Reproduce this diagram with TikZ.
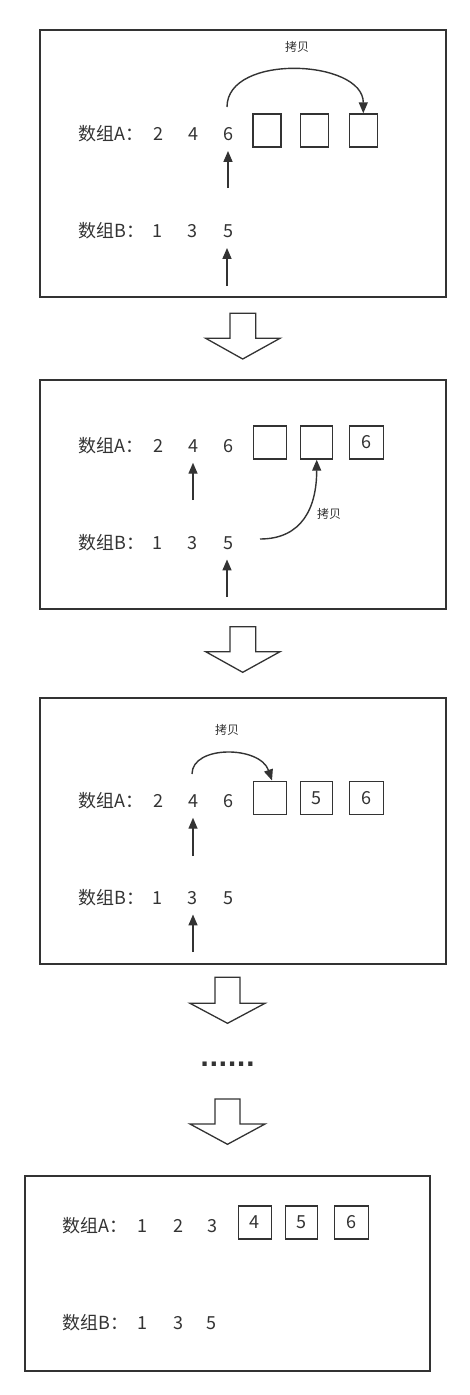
\documentclass[tikz,border=0pt]{standalone}
\usepackage{fontspec}
\setmainfont{Noto Sans CJK SC}
\newfontfamily\dotfont{DejaVu Sans}
\usetikzlibrary{arrows.meta}
\definecolor{ink}{HTML}{333333}
\begin{document}
\begin{tikzpicture}[x=1pt,y=-1pt,
  panel/.style={draw=ink, line width=1.4pt},
  lab/.style={anchor=base west, inner sep=0pt, font=\fontsize{18}{20}\selectfont, text=ink},
  num/.style={anchor=base, inner xsep=0pt, inner ysep=10pt, font=\fontsize{18}{20}\selectfont, text=ink},
  cell/.style={draw=ink, line width=1.4pt, minimum width=33pt, minimum height=33pt, inner sep=0pt, font=\fontsize{18}{20}\selectfont, text=ink},
  arr/.style={draw=ink, line width=1.4pt, -{Triangle[width=9pt,length=11pt]}},
  blk/.style={draw=ink, line width=1.3pt, line join=miter},
  note/.style={inner sep=0pt, font=\fontsize{12}{14}\selectfont, text=ink}]
\useasboundingbox (0,0) rectangle (470,1395);

% ---------- Panel 1 ----------
\draw[panel] (40,30) rectangle (446,297);
\node[lab] (a1) at (78,140.5) {数组A：};
\node[num] (a1n1) at (158,140.5) {2};
\node[num] (a1n2) at (193,140.5) {4};
\node[num] (a1n3) at (228,140.5) {6};
\node[cell, minimum width=28pt] (a1b1) at (267,130.5) {};
\node[cell, minimum width=28pt] (a1b2) at (314.2,130.5) {};
\node[cell, minimum width=28pt] (a1b3) at (363.3,130.5) {};
\node[lab] (b1) at (78,237.5) {数组B：};
\node[num] (b1n1) at (157,237.5) {1};
\node[num] (b1n2) at (192,237.5) {3};
\node[num] (b1n3) at (228,237.5) {5};
\coordinate (p1a) at (228,188);
\coordinate (p1b) at (227,286);
\draw[arr] (p1a) -- (a1n3);
\draw[arr] (p1b) -- (p1b |- b1n3.south);
\coordinate (c1) at (227,107);
\draw[arr] (c1) .. controls +(0,-54) and +(0,-54) .. (a1b3.north);
\node[note] (k1) at (297,47) {拷贝};

% arrow 1
\draw[blk] (230,313.3) -- (255.7,313.3) -- (255.7,338.3) -- (280,338.3) -- (242.7,359) -- (205.7,338.3) -- (230,338.3) -- cycle;

% ---------- Panel 2 ----------
\draw[panel] (40,380) rectangle (446,609);
\node[lab] (a2) at (78,452.5) {数组A：};
\node[num] (a2n1) at (158,452.5) {2};
\node[num] (a2n2) at (193,452.5) {4};
\node[num] (a2n3) at (228,452.5) {6};
\node[cell] (a2b1) at (270,442.5) {};
\node[cell, minimum width=32pt] (a2b2) at (316.7,442.5) {};
\node[cell, minimum width=34pt] (a2b3) at (366.5,442.5) {6};
\node[lab] (b2) at (78,549) {数组B：};
\node[num] (b2n1) at (157,549) {1};
\node[num] (b2n2) at (192,549) {3};
\node[num] (b2n3) at (228,549) {5};
\coordinate (p2a) at (193,500);
\coordinate (p2b) at (227,597);
\draw[arr] (p2a) -- (p2a |- a2n2.south);
\draw[arr] (p2b) -- (p2b |- b2n3.south);
\coordinate (c2) at (260,539);
\draw[arr] (c2) .. controls +(42,0) and +(0,48) .. (a2b2.south);
\node[note] (k2) at (329,514) {拷贝};

% arrow 2
\draw[blk] (230,626.7) -- (255.7,626.7) -- (255.7,651.7) -- (280,651.7) -- (242.7,672.3) -- (205.7,651.7) -- (230,651.7) -- cycle;

% ---------- Panel 3 ----------
\draw[panel] (40,698) rectangle (446,964);
\node[lab] (a3) at (78,807.5) {数组A：};
\node[num] (a3n1) at (158,807.5) {2};
\node[num] (a3n2) at (193,807.5) {4};
\node[num] (a3n3) at (228,807.5) {6};
\node[cell] (a3b1) at (270,797.7) {};
\node[cell, minimum width=32pt] (a3b2) at (316.7,797.7) {5};
\node[cell, minimum width=34pt] (a3b3) at (366.5,797.7) {6};
\node[lab] (b3) at (78,904) {数组B：};
\node[num] (b3n1) at (157,904) {1};
\node[num] (b3n2) at (192,904) {3};
\node[num] (b3n3) at (228,904) {5};
\coordinate (p3a) at (193,856);
\coordinate (p3b) at (193,952);
\draw[arr] (p3a) -- (p3a |- a3n2.south);
\draw[arr] (p3b) -- (p3b |- b3n2.south);
\coordinate (c3) at (192,774);
\draw[arr] (c3) .. controls +(0,-29) and +(-12,-35) .. ([xshift=2pt]a3b1.north);
\node[note] (k3) at (227,730) {拷贝};

% arrow 3
\draw[blk] (215,977.3) -- (240,977.3) -- (240,1003.3) -- (265,1003.3) -- (227.5,1023.3) -- (190,1003.3) -- (215,1003.3) -- cycle;

\node[inner sep=0pt, text=ink, font=\dotfont\bfseries\fontsize{24}{24}\selectfont] (dots) at (227.5,1064) {......};

% arrow 4
\draw[blk] (215,1099) -- (240,1099) -- (240,1124) -- (265,1124) -- (227.5,1144.3) -- (190,1124) -- (215,1124) -- cycle;

% ---------- Panel 4 ----------
\draw[panel] (25,1176) rectangle (430,1371);
\node[lab] (a4) at (62.7,1232.5) {数组A：};
\node[num] (a4n1) at (142.3,1232.5) {1};
\node[num] (a4n2) at (178.3,1232.5) {2};
\node[num] (a4n3) at (212.7,1232.5) {3};
\node[cell] (a4b1) at (254.7,1222.3) {4};
\node[cell, minimum width=32pt] (a4b2) at (301.2,1222.3) {5};
\node[cell, minimum width=34pt] (a4b3) at (351.3,1222.3) {6};
\node[lab] (b4) at (62.7,1329) {数组B：};
\node[num] (b4n1) at (142.3,1329) {1};
\node[num] (b4n2) at (178.3,1329) {3};
\node[num] (b4n3) at (211.7,1329) {5};
\end{tikzpicture}
\end{document}
